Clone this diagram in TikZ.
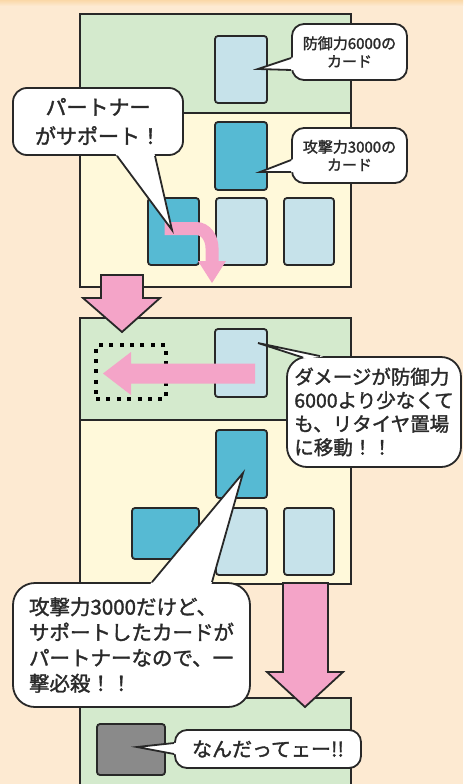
\documentclass[tikz,border=0pt]{standalone}
\usepackage{fontspec}
\newfontfamily\jpfont[FakeBold=1.6]{Noto Sans CJK JP}
\usetikzlibrary{calc}
\definecolor{bg}{HTML}{FDEAD2}
\definecolor{topband}{HTML}{FAD8A8}
\definecolor{pgreen}{HTML}{D4EACD}
\definecolor{pyellow}{HTML}{FFF9DA}
\definecolor{lb}{HTML}{C6E2EA}
\definecolor{tealc}{HTML}{56BAD3}
\definecolor{pinkc}{HTML}{F4A4C8}
\definecolor{grayc}{HTML}{8A8A8A}
\definecolor{ink}{HTML}{282828}
\definecolor{txt}{HTML}{2A2A2A}
\newcommand\bubtail[3]{%
  \fill[white] ($(#1)!-3pt!(#3)$) -- (#1) -- (#3) -- (#2) -- ($(#2)!-3pt!(#3)$) -- cycle;
  \draw[outl, line join=miter] (#1) -- (#3) -- (#2);
}
\begin{document}
\begin{tikzpicture}[x=1pt,y=-1pt,
  outl/.style={draw=ink, line width=1.8pt},
  card/.style={outl, rounded corners=3pt, inner sep=0pt},
  cardwh/.style 2 args={minimum width=#1, minimum height=#2},
  lbcard/.style={card, fill=lb},
  tlcard/.style={card, fill=tealc},
  bubble/.style={outl, fill=white, inner sep=0pt, text=txt},
  bigarrow/.style={outl, fill=pinkc, line join=miter},
]
\useasboundingbox (0,0) rectangle (463,784);
\clip (0,0) rectangle (463,784);
% background
\fill[bg] (0,0) rectangle (463,784);
\shade[top color=topband, bottom color=bg] (0,0) rectangle (463,6);
% panel 1
\fill[pgreen] (80,14) rectangle (351,113);
\fill[pyellow] (80,113) rectangle (351,287);
\draw[outl] (80,14) rectangle (351,287);
\draw[outl] (80,113) -- (351,113);
% panel 2
\fill[pgreen] (80,318) rectangle (351,420);
\fill[pyellow] (80,420) rectangle (351,584);
\draw[outl] (80,318) rectangle (351,584);
\draw[outl] (80,420) -- (351,420);
% panel 3
\fill[pgreen] (80,698) rectangle (351,800);
\draw[outl] (80,800) -- (80,698) -- (351,698) -- (351,800);
% cards panel 1
\node[lbcard, cardwh={52}{67}] (d1) at (241,69.5) {};
\node[tlcard, cardwh={52}{68}] (a1) at (241,156) {};
\node[tlcard, cardwh={51}{67}] (s1) at (173.5,231.5) {};
\node[lbcard, cardwh={51}{67}] (m1) at (241.5,231.5) {};
\node[lbcard, cardwh={50}{67}] (r1) at (309,231.5) {};
% cards panel 2
\node[lbcard, cardwh={52}{68}] (d2) at (241,363) {};
\node[draw=black, line width=4pt, dash pattern=on 4pt off 6.4pt, inner sep=0pt, cardwh={70}{54}] (slot) at (131,372) {};
\node[tlcard, cardwh={51}{68}] (a2) at (241.5,464) {};
\node[tlcard, cardwh={67}{51}] (s2) at (165.5,533.5) {};
\node[lbcard, cardwh={51}{67}] (m2) at (241.5,541.5) {};
\node[lbcard, cardwh={50}{67}] (r2) at (309,541.5) {};
% card panel 3
\node[card, fill=grayc, cardwh={68}{51}] (g3) at (131,749.5) {};
% pink arrows
\draw[pinkc, line width=13pt] ($(s1.center)+(-9,-3)$) -- (196,228.5) to[out=0,in=90] (212,248) -- (212,263);
\fill[pinkc] (198,261) -- (226,261) -- (212,283) -- cycle;
\fill[pinkc] (255,363.5) -- (131,363.5) -- (131,352) -- (103,373.5) -- (131,395) -- (131,383.5) -- (255,383.5) -- cycle;
% big arrows
\draw[bigarrow] (101,275) -- (143,275) -- (143,298) -- (160,298) -- (122,332) -- (83,298) -- (101,298) -- cycle;
\draw[bigarrow] (283,583) -- (328,583) -- (328,672) -- (343,672) -- (305,707) -- (267,672) -- (283,672) -- cycle;
% bubbles
\node[bubble, rounded corners=14pt, cardwh={170}{67}, align=center,
  font=\jpfont\fontsize{21}{29}\selectfont] (b1) at (98,121.5) {パートナー\\がサポート！};
\node[bubble, rounded corners=12pt, cardwh={115}{56}, align=center,
  font=\jpfont\fontsize{15}{18}\selectfont] (b2) at (349.5,52) {防御力6000の\\カード};
\node[bubble, rounded corners=12pt, cardwh={115}{55}, align=center,
  font=\jpfont\fontsize{15}{18}\selectfont] (b3) at (349.5,155.5) {攻撃力3000の\\カード};
\node[bubble, rounded corners=20pt, cardwh={174}{110}, align=left,
  font=\jpfont\fontsize{19.5}{23.5}\selectfont] (b4) at (374,412) {ダメージが防御力\\6000より少なくて\\も、リタイヤ置場\\に移動！！};
\node[bubble, rounded corners=22pt, cardwh={237}{124}, align=left,
  font=\jpfont\fontsize{20.5}{25.5}\selectfont] (b5) at (131.5,645) {攻撃力3000だけど、\\サポートしたカードが\\パートナーなので、一\\撃必殺！！};
\node[bubble, rounded corners=12pt, cardwh={186}{38}, align=center,
  font=\jpfont\fontsize{20}{24}\selectfont] (b6) at (268,749) {なんだってェー!!};
% tails
\coordinate (t1) at ($(s1.center)+(-1.5,-1.5)$);
\coordinate (t1a) at ($(b1.south)+(19,0)$);
\coordinate (t1b) at ($(b1.south)+(57,0)$);
\bubtail{t1a}{t1b}{t1}
\coordinate (t2) at ($(d1.center)+(17,-0.5)$);
\coordinate (t2a) at ($(b2.west)+(0,6)$);
\coordinate (t2b) at ($(b2.west)+(0,18)$);
\bubtail{t2a}{t2b}{t2}
\coordinate (t3) at ($(a1.center)+(19,16)$);
\coordinate (t3a) at ($(b3.west)+(0,4.5)$);
\coordinate (t3b) at ($(b3.west)+(0,16.5)$);
\bubtail{t3a}{t3b}{t3}
\coordinate (t4) at ($(d2.center)+(17,-20)$);
\coordinate (t4a) at ($(b4.north west)+(17,1.5)$);
\coordinate (t4b) at ($(b4.north west)+(34,0)$);
\bubtail{t4a}{t4b}{t4}
\coordinate (t5) at ($(a2.center)+(1.5,9)$);
\coordinate (t5a) at ($(b5.north)+(20.5,0)$);
\coordinate (t5b) at ($(b5.north)+(80.5,0)$);
\bubtail{t5a}{t5b}{t5}
\coordinate (t6) at ($(g3.center)+(6,-2.5)$);
\coordinate (t6a) at ($(b6.west)+(0,-6)$);
\coordinate (t6b) at ($(b6.west)+(0,5)$);
\bubtail{t6a}{t6b}{t6}
\end{tikzpicture}
\end{document}
